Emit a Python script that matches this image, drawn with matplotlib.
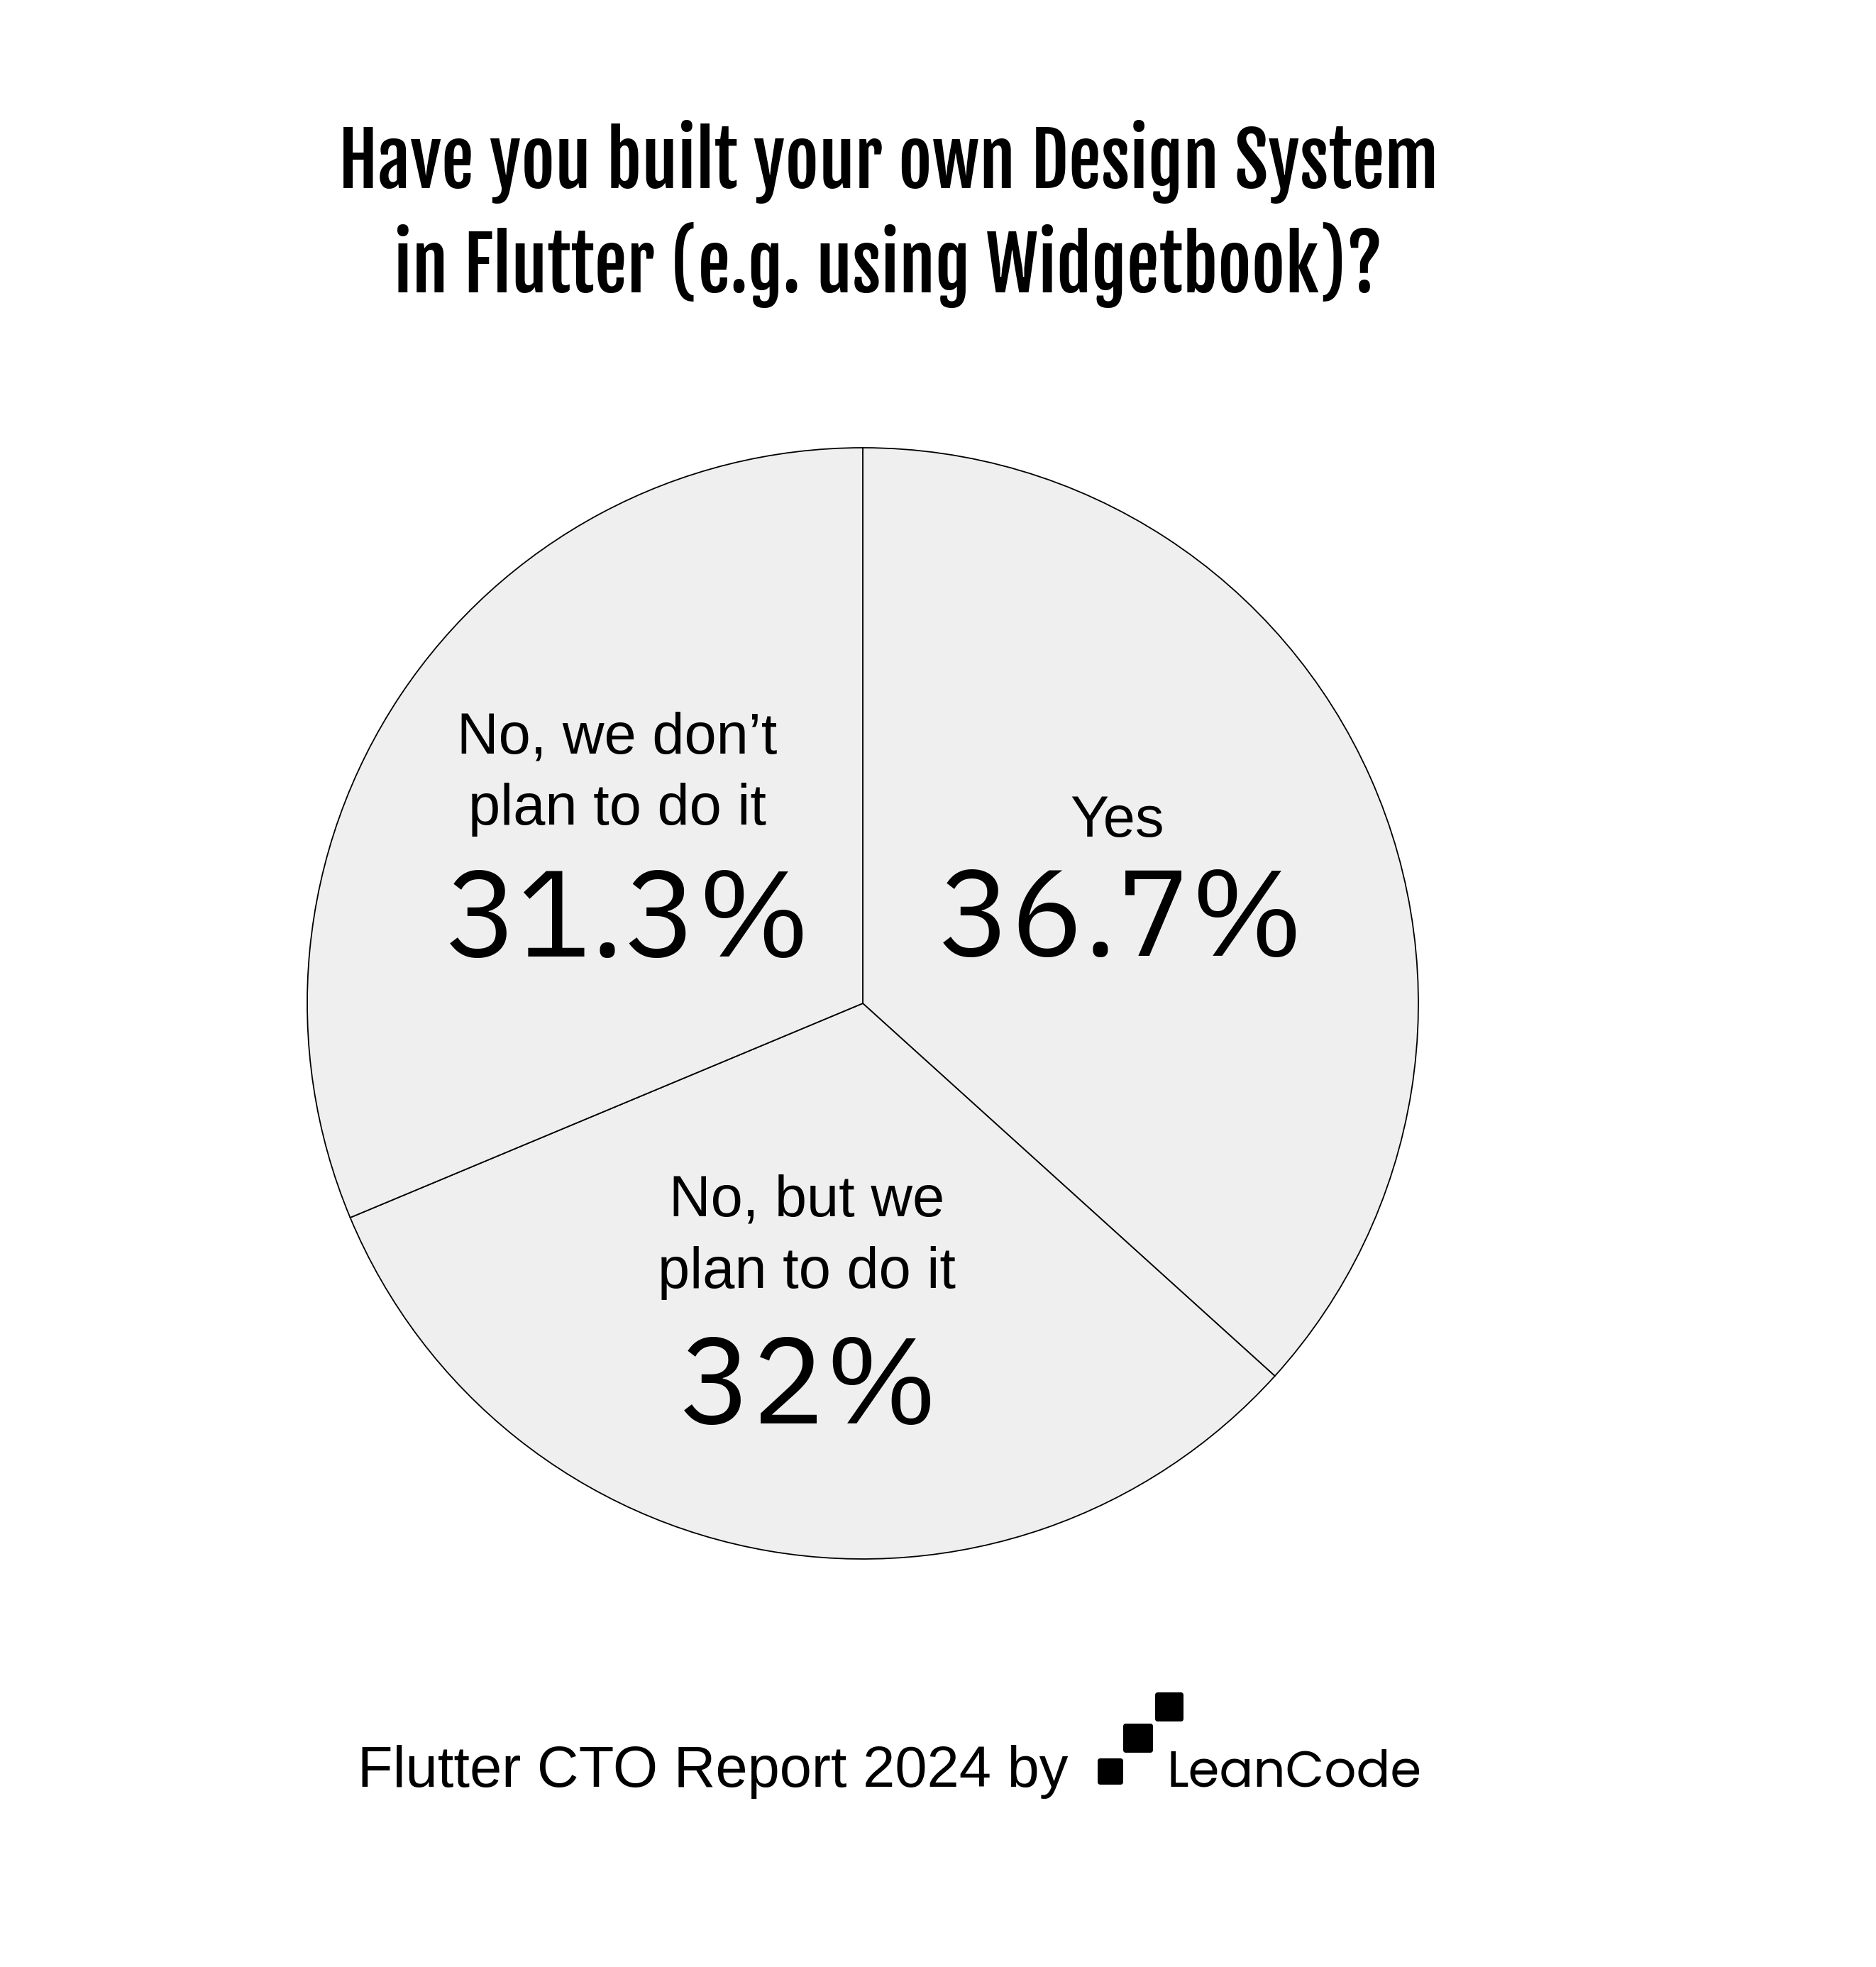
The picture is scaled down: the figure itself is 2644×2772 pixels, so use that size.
import matplotlib
matplotlib.use("Agg")
import matplotlib.pyplot as plt
from matplotlib.patches import FancyBboxPatch
from matplotlib import font_manager

W, H = 2644, 2772
DPI = 100

title_lines = ["Have you built your own Design System",
               "in Flutter (e.g. using Widgetbook)?"]
categories = ["Yes", "No, but we\nplan to do it", "No, we don\u2019t\nplan to do it"]
shares = [36.7, 32.0, 31.3]
share_labels = ["36.7%", "32%", "31.3%"]
footer = "Flutter CTO Report 2024 by"
brand = "LeanCode"

names = {f.name for f in font_manager.fontManager.ttflist}

def pick(*cands):
    for c in cands:
        if c in names:
            return c
    return "DejaVu Sans"

title_font = pick("Oswald Bold", "Oswald SemiBold", "Fjalla One", "Oswald")
label_font = pick("Liberation Sans", "Arimo")
num_font = pick("IBM Plex Sans", "Inter")
brand_font = pick("Poppins", "Inter")

fig = plt.figure(figsize=(W / DPI, H / DPI), dpi=DPI)
fig.patch.set_facecolor("white")

# pie geometry in pixels
cx, cy, R = 1216, 1414, 783
ax = fig.add_axes([(cx - R) / W, (H - cy - R) / H, 2 * R / W, 2 * R / H])
wedges, _ = ax.pie(shares, startangle=90, counterclock=False, radius=1,
                   colors=["#efefef"] * len(shares),
                   wedgeprops=dict(edgecolor="black", linewidth=1.3))
ax.set_xlim(-1, 1)
ax.set_ylim(-1, 1)
ax.set_aspect("equal")
ax.axis("off")

def d(px, py):
    return (px - cx) / R, (cy - py) / R

# baselines and x centres of the name lines and the values (pixels)
name_base = [1179, 1815, 1162]
value_base = [1347, 2006, 1348]
name_x = [1574, 1137, 870]
value_x = [1580, 1140, 885]
for cat, lab, nb, vb, nx, vx in zip(categories, share_labels, name_base,
                                    value_base, name_x, value_x):
    lines = cat.split("\n")
    for j, line in enumerate(lines):
        yb = nb - (len(lines) - 1 - j) * 101
        ax.text(*d(nx, yb), line, ha="center", va="baseline", fontsize=58.5,
                family=label_font, color="black")
    ax.text(*d(vx, vb), lab, ha="center", va="baseline", fontsize=124,
            family=num_font, color="black")

# overlay for title and footer
ov = fig.add_axes([0, 0, 1, 1])
ov.set_xlim(0, W)
ov.set_ylim(H, 0)
ov.axis("off")

for i, line in enumerate(title_lines):
    ov.text(1252, 265 + i * 147, line, ha="center", va="baseline",
            fontsize=74, fontweight="bold", family=title_font, color="black")

ov.text(504, 2518, footer, ha="left", va="baseline", fontsize=58.5,
        family=label_font, color="black")

for x0, y0, x1, y1 in [(1547, 2478, 1583, 2515), (1583, 2429, 1625, 2470),
                       (1628, 2385, 1668, 2426)]:
    ov.add_patch(FancyBboxPatch((x0 + 4, y0 + 4), x1 - x0 - 8, y1 - y0 - 8,
                                boxstyle="round,pad=4", facecolor="black",
                                edgecolor="none"))
ov.text(1645, 2517, brand, ha="left", va="baseline", fontsize=51,
        family=brand_font, color="black")

fig.savefig("out.png", dpi=DPI, facecolor="white")
